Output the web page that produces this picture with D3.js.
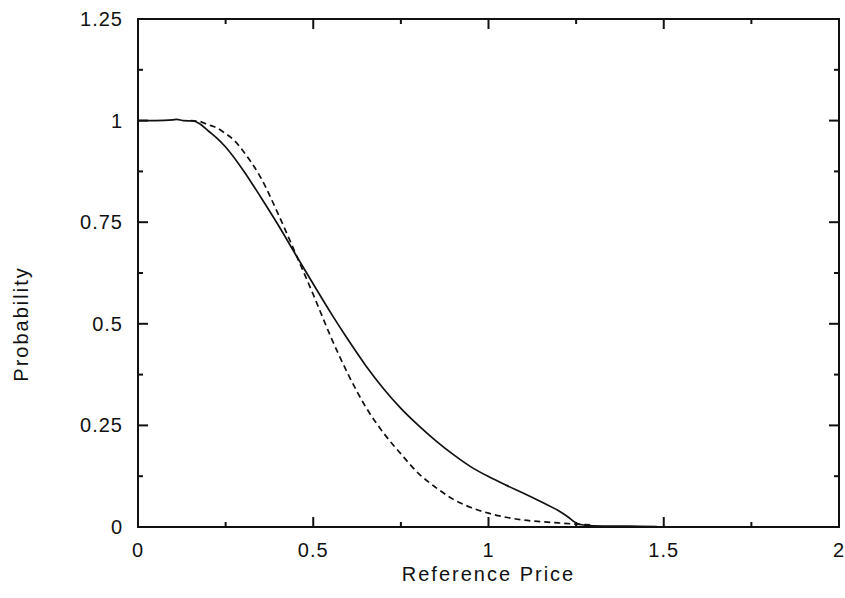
<!DOCTYPE html>
<html>
<head>
<meta charset="utf-8">
<script src="https://cdn.jsdelivr.net/npm/d3@7"></script>
<style>
  body { margin: 0; background: #fff; }
  text { font-family: "Liberation Sans", Arial, Helvetica, sans-serif; fill: #111; }
</style>
</head>
<body>
<svg id="chart" width="845" height="598"></svg>
<script>
// solid curve
const solidX = [0, 0.05, 0.1, 0.11, 0.13, 0.158, 0.175, 0.2, 0.225, 0.25, 0.3, 0.35, 0.4, 0.45, 0.5, 0.55, 0.6, 0.65, 0.7, 0.75, 0.8, 0.85, 0.9, 0.95, 1.0, 1.05, 1.1, 1.15, 1.2, 1.225, 1.25, 1.27, 1.3, 1.4, 1.48];
const solidY = [1, 1, 1.002, 1.003, 1.0, 0.999, 0.993, 0.975, 0.957, 0.935, 0.878, 0.812, 0.743, 0.67, 0.598, 0.527, 0.46, 0.397, 0.341, 0.292, 0.25, 0.212, 0.178, 0.148, 0.124, 0.103, 0.083, 0.062, 0.04, 0.026, 0.01, 0.005, 0.003, 0.002, 0.001];

// dashed curve
const dashX = [0.15, 0.175, 0.2, 0.225, 0.25, 0.275, 0.3, 0.35, 0.4, 0.45, 0.5, 0.55, 0.6, 0.65, 0.7, 0.75, 0.8, 0.85, 0.9, 0.95, 1.0, 1.05, 1.1, 1.15, 1.2, 1.25, 1.3];
const dashY = [1.0, 0.998, 0.99, 0.982, 0.968, 0.951, 0.925, 0.86, 0.77, 0.672, 0.572, 0.468, 0.375, 0.295, 0.232, 0.18, 0.132, 0.097, 0.068, 0.048, 0.034, 0.024, 0.017, 0.013, 0.01, 0.007, 0.005];

const xTicks = [0, 0.5, 1, 1.5, 2];
const xMinor = [0.25, 0.75, 1.25, 1.75];
const yTicks = [0, 0.25, 0.5, 0.75, 1, 1.25];
const yMinor = [0.125, 0.375, 0.625, 0.875, 1.125];

const svg = d3.select('#chart');

const x = d3.scaleLinear().domain([0, 2]).range([138, 839]);
const y = d3.scaleLinear().domain([0, 1.25]).range([527, 19]);

const fmt = d => String(d);

// frame
svg.append('rect')
  .attr('x', x(0)).attr('y', y(1.25))
  .attr('width', x(2) - x(0)).attr('height', y(0) - y(1.25))
  .attr('fill', 'none').attr('stroke', '#111').attr('stroke-width', 2);

const major = 10, minor = 5;

// ticks, pointing inward on all four sides
const tickG = svg.append('g').attr('stroke', '#111').attr('stroke-width', 2);
xTicks.concat(xMinor).forEach(v => {
  const len = xTicks.includes(v) ? major : minor;
  tickG.append('line').attr('x1', x(v)).attr('x2', x(v)).attr('y1', y(0)).attr('y2', y(0) - len);
  tickG.append('line').attr('x1', x(v)).attr('x2', x(v)).attr('y1', y(1.25)).attr('y2', y(1.25) + len);
});
yTicks.concat(yMinor).forEach(v => {
  const len = yTicks.includes(v) ? major : minor;
  tickG.append('line').attr('y1', y(v)).attr('y2', y(v)).attr('x1', x(0)).attr('x2', x(0) + len);
  tickG.append('line').attr('y1', y(v)).attr('y2', y(v)).attr('x1', x(2)).attr('x2', x(2) - len);
});

// tick labels
svg.append('g').selectAll('text')
  .data(xTicks)
  .join('text')
  .attr('x', d => x(d))
  .attr('y', 557)
  .attr('text-anchor', 'middle')
  .attr('font-size', 20)
  .attr('letter-spacing', 1)
  .text(fmt);

svg.append('g').selectAll('text')
  .data(yTicks)
  .join('text')
  .attr('x', 123)
  .attr('y', d => y(d) + 7)
  .attr('text-anchor', 'end')
  .attr('font-size', 20)
  .attr('letter-spacing', 1)
  .text(fmt);

// axis titles
svg.append('text')
  .attr('x', (x(0) + x(2)) / 2)
  .attr('y', 581)
  .attr('text-anchor', 'middle')
  .attr('font-size', 20)
  .attr('letter-spacing', 2)
  .text('Reference Price');

svg.append('text')
  .attr('transform', 'translate(28,324) rotate(-90)')
  .attr('text-anchor', 'middle')
  .attr('font-size', 20)
  .attr('letter-spacing', 2)
  .text('Probability');

// curves
const line = d3.line()
  .x(d => x(d[0]))
  .y(d => y(d[1]))
  .curve(d3.curveMonotoneX);

svg.append('path')
  .datum(d3.zip(solidX, solidY))
  .attr('d', line)
  .attr('fill', 'none')
  .attr('stroke', '#111')
  .attr('stroke-width', 1.7);

svg.append('path')
  .datum(d3.zip(dashX, dashY))
  .attr('d', line)
  .attr('fill', 'none')
  .attr('stroke', '#111')
  .attr('stroke-width', 1.7)
  .attr('stroke-dasharray', '6,4');
</script>
</body>
</html>
